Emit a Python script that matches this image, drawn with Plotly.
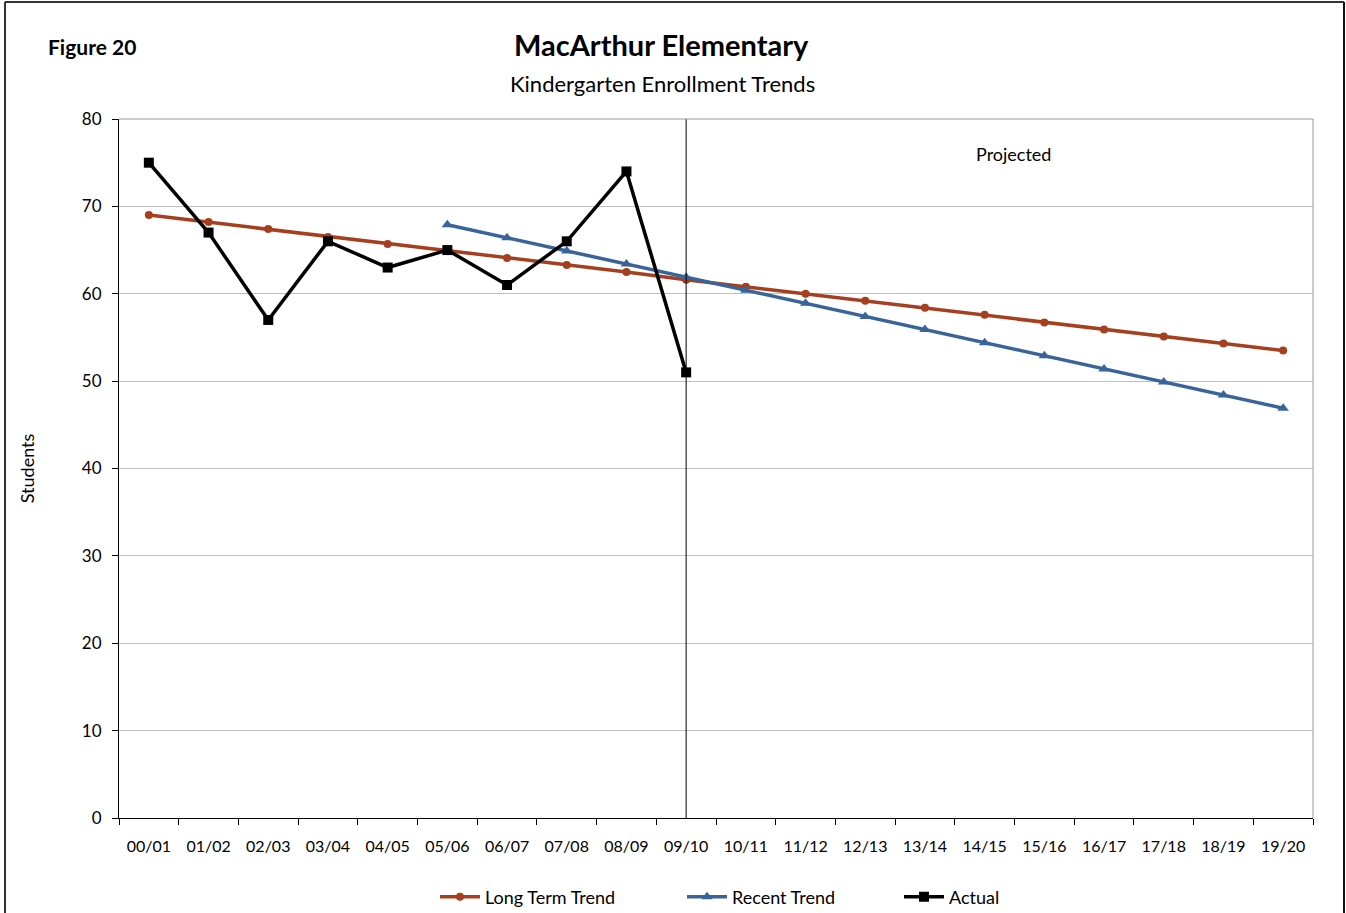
import plotly.graph_objects as go

categories = ["00/01", "01/02", "02/03", "03/04", "04/05", "05/06", "06/07", "07/08", "08/09", "09/10",
              "10/11", "11/12", "12/13", "13/14", "14/15", "15/16", "16/17", "17/18", "18/19", "19/20"]
long_term = [69.0, 68.2, 67.4, 66.5, 65.7, 64.9, 64.1, 63.3, 62.5, 61.6,
             60.8, 60.0, 59.2, 58.4, 57.6, 56.7, 55.9, 55.1, 54.3, 53.5]
recent_cats = categories[5:]
recent = [67.9, 66.4, 64.9, 63.4, 61.9, 60.4, 58.9, 57.4, 55.9, 54.4, 52.9, 51.4, 49.9, 48.4, 46.9]
actual_cats = categories[:10]
actual = [75, 67, 57, 66, 63, 65, 61, 66, 74, 51]
y_ticks = [0, 10, 20, 30, 40, 50, 60, 70, 80]

FONT = "Lato"
W, H = 1346, 913
ML, MR, MT, MB = 119, 33, 119, 95
PW, PH = W - ML - MR, H - MT - MB

def px(x):
    return (x - ML) / PW

def py(y):
    return (H - MB - y) / PH

fig = go.Figure()
fig.add_trace(go.Scatter(x=categories, y=long_term, name="Long Term Trend", mode="lines+markers",
                         line=dict(color="#A63F1E", width=3.5), legend="legend",
                         marker=dict(symbol="circle", size=8, color="#A63F1E")))
fig.add_trace(go.Scatter(x=recent_cats, y=recent, name="Recent Trend", mode="lines+markers",
                         line=dict(color="#38649A", width=3.5), legend="legend2",
                         marker=dict(symbol="triangle-up", size=10, color="#38649A")))
fig.add_trace(go.Scatter(x=actual_cats, y=actual, name="Actual", mode="lines+markers",
                         line=dict(color="#000000", width=3.5), legend="legend3",
                         marker=dict(symbol="square", size=10, color="#000000")))

proj_idx = categories.index("09/10")
fig.add_shape(type="line", xref="x", yref="paper", x0=proj_idx, x1=proj_idx, y0=0, y1=1,
              line=dict(color="#000000", width=1))
# plot area gray frame (top/right)
fig.add_shape(type="line", xref="paper", yref="paper", x0=0, x1=1, y0=1, y1=1,
              line=dict(color="#9A9A9A", width=1))
fig.add_shape(type="line", xref="paper", yref="paper", x0=1, x1=1, y0=0, y1=1,
              line=dict(color="#9A9A9A", width=1))
# outer chart border
fig.add_shape(type="line", xref="paper", yref="paper", x0=px(5), x1=px(1344), y0=py(2), y1=py(2),
              line=dict(color="#333333", width=2))
fig.add_shape(type="line", xref="paper", yref="paper", x0=px(5), x1=px(5), y0=py(2), y1=py(920),
              line=dict(color="#333333", width=2))
fig.add_shape(type="line", xref="paper", yref="paper", x0=px(1344), x1=px(1344), y0=py(2), y1=py(920),
              line=dict(color="#111111", width=2))

fig.add_annotation(text="Projected", x=14.48, y=76, xref="x", yref="y", showarrow=False,
                   yanchor="middle", font=dict(family=FONT, size=18, color="#000000"))
fig.add_annotation(text="<b>Figure 20</b>", x=px(46), y=py(47), xref="paper", yref="paper",
                   xanchor="left", yanchor="middle", showarrow=False,
                   font=dict(family=FONT, size=21, color="#000000"))
fig.add_annotation(text="<b>MacArthur Elementary</b>", x=px(661), y=py(44), xref="paper", yref="paper",
                   xanchor="center", yanchor="middle", showarrow=False,
                   font=dict(family=FONT, size=29, color="#000000"))
fig.add_annotation(text="Kindergarten Enrollment Trends", x=px(662), y=py(83), xref="paper", yref="paper",
                   xanchor="center", yanchor="middle", showarrow=False,
                   font=dict(family=FONT, size=22, color="#000000"))

def leg(x):
    return dict(orientation="h", x=px(x), xanchor="left", y=py(897), yanchor="middle",
                font=dict(family=FONT, size=18, color="#000000"), itemwidth=40,
                bgcolor="rgba(0,0,0,0)")

fig.update_layout(
    width=W, height=H,
    margin=dict(l=ML, r=MR, t=MT, b=MB, autoexpand=False),
    paper_bgcolor="white", plot_bgcolor="white",
    showlegend=True,
    legend=leg(435), legend2=leg(682), legend3=leg(899),
    xaxis=dict(type="category", categoryorder="array", categoryarray=categories,
               range=[-0.5, len(categories) - 0.5],
               showgrid=False, showline=True, linecolor="#000000", linewidth=1,
               ticks="outside", tickson="boundaries", ticklen=6, tickcolor="#000000",
               ticklabelstandoff=14,
               tickfont=dict(family=FONT, size=16, color="#000000")),
    yaxis=dict(range=[0, 80], tickvals=y_ticks, showgrid=True, gridcolor="#C0C0C0", gridwidth=1,
               showline=True, linecolor="#000000", linewidth=1, ticks="outside", ticklen=6,
               tickcolor="#000000", zeroline=False, ticklabelstandoff=7,
               tickfont=dict(family=FONT, size=17, color="#000000"),
               title=dict(text="Students", font=dict(family=FONT, size=18, color="#000000"), standoff=42)),
    font=dict(family=FONT),
)

fig.write_html("out.html", config={"displayModeBar": False},
               post_script="document.body.style.margin='0px';")
